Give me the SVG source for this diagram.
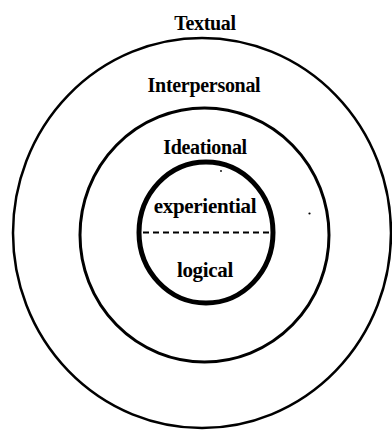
<svg xmlns="http://www.w3.org/2000/svg" width="392" height="430" viewBox="0 0 392 430">
<style>
.c{fill:none;stroke:#000}
.t{font-family:"Liberation Serif","Times New Roman",serif;font-weight:bold;font-size:20px;text-anchor:middle;fill:#000;letter-spacing:-0.3px}
</style>
<rect width="392" height="430" fill="#fff"/>
<g id="textual">
<ellipse class="c" cx="202" cy="233" rx="189" ry="195" stroke-width="2.5"/>
<text class="t" x="205" y="30">Textual</text>
</g>
<g id="interpersonal">
<ellipse class="c" cx="204.5" cy="235" rx="124.5" ry="127" stroke-width="3"/>
<text class="t" x="204" y="92">Interpersonal</text>
</g>
<g id="ideational">
<ellipse class="c" cx="206" cy="232.5" rx="67" ry="70.5" stroke-width="5"/>
<text class="t" x="205" y="154">Ideational</text>
</g>
<g id="experiential">
<text class="t" x="205" y="213" style="font-size:21px">experiential</text>
</g>
<g id="logical">
<text class="t" x="205" y="277" style="font-size:21px">logical</text>
</g>
<g id="connectors">
<line x1="143" y1="232.5" x2="273" y2="232.5" stroke="#000" stroke-width="2" stroke-dasharray="6,4"/>
</g>
<circle cx="221" cy="171" r="0.9" fill="#000"/>
<circle cx="309.5" cy="213.5" r="1.1" fill="#000"/>
</svg>
